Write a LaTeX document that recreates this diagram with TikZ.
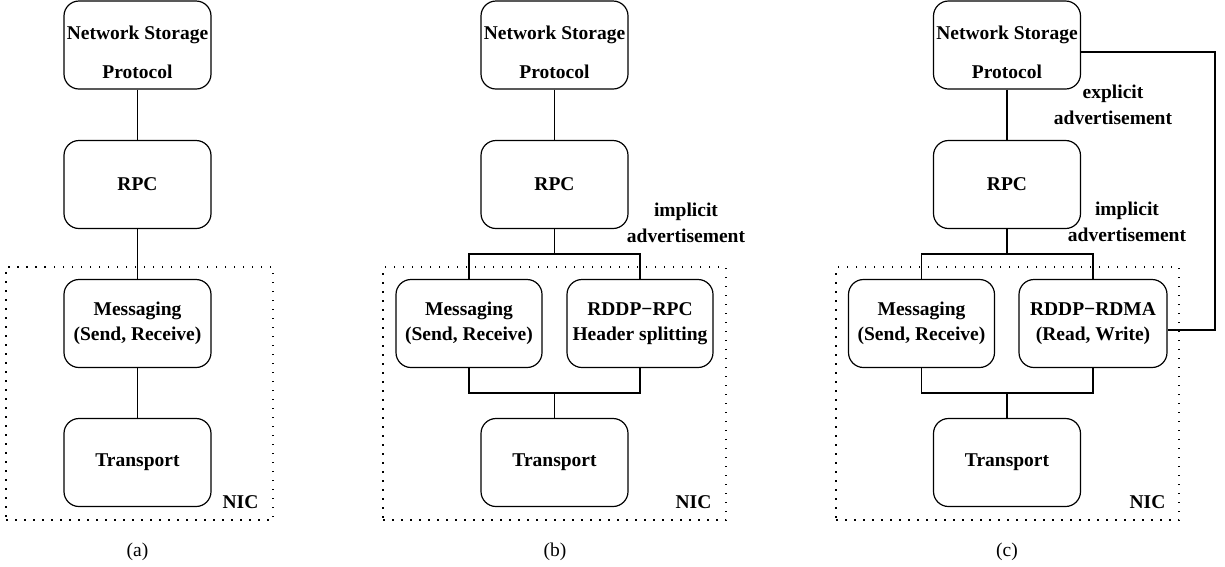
\documentclass[tikz,border=0pt]{standalone}
\usepackage{fontspec}
\setmainfont{Liberation Serif}
\newcommand\lblfont{\fontsize{19.5}{25}\selectfont}
\begin{document}
\begin{tikzpicture}[x=1pt,y=-1pt,
  box/.style={draw, line width=1.2pt, rounded corners=15pt, minimum width=147pt,
    minimum height=88pt, inner sep=0pt, font=\lblfont\bfseries, align=center},
  txt/.style={inner sep=0pt, font=\lblfont\bfseries, align=center},
  sublabel/.style={inner sep=0pt, font=\lblfont},
  link/.style={line width=1.2pt},
  nicbox/.style={draw, line width=1.2pt, dash pattern=on 1.5pt off 7.5pt, inner sep=0pt}]
\useasboundingbox (0,0) rectangle (1225,566);

% ---------------- (a) ----------------
\node[nicbox, minimum width=267pt, minimum height=253pt] (nicA) at (139.5,393.5) {};
\node[box] (nspA) at (137.5,45) {};
\node[txt] (nspAt) at (137.5,52.5) {Network Storage\\[14pt]Protocol};
\node[box] (rpcA) at (137.5,184.5) {RPC};
\node[box] (msgA) at (137.5,323.5) {Messaging\\(Send, Receive)};
\node[box] (trA) at (137.5,462.5) {Transport};
\node[txt] (nicAl) at (240.5,502) {NIC};
\node[sublabel] (capA) at (137.5,552) {(a)};
\draw[link] (nspA) -- (rpcA);
\draw[link] (rpcA) -- (msgA);
\draw[link] (msgA) -- (trA);

% ---------------- (b) ----------------
\node[nicbox, minimum width=343pt, minimum height=253pt] (nicB) at (554.5,393.5) {};
\node[box] (nspB) at (554.5,45) {};
\node[txt] (nspBt) at (554.5,52.5) {Network Storage\\[14pt]Protocol};
\node[box] (rpcB) at (554.5,184.5) {RPC};
\node[box, minimum width=146pt] (msgB) at (469,323.5) {Messaging\\(Send, Receive)};
\node[box, minimum width=146pt] (rddpB) at (640,323.5) {RDDP−RPC\\Header splitting};
\node[box] (trB) at (554.5,462.5) {Transport};
\coordinate (jtB) at (554.5,254);
\coordinate (jbB) at (554.5,393);
\node[txt] (impB) at (686,223) {implicit\\[1pt]advertisement};
\node[txt] (nicBl) at (693.5,502) {NIC};
\node[sublabel] (capB) at (555,552) {(b)};
\draw[link] (nspB) -- (rpcB);
\draw[link] (rpcB) -- (jtB);
\draw[link] (msgB.north) |- (jtB) -| (rddpB.north);
\draw[link] (msgB.south) |- (jbB) -| (rddpB.south);
\draw[link] (jbB) -- (trB);

% ---------------- (c) ----------------
\node[nicbox, minimum width=343pt, minimum height=253pt] (nicC) at (1007.5,393.5) {};
\node[box] (nspC) at (1007,45) {};
\node[txt] (nspCt) at (1007,52.5) {Network Storage\\[14pt]Protocol};
\node[box] (rpcC) at (1007,184.5) {RPC};
\node[box, minimum width=146pt] (msgC) at (921.5,323.5) {Messaging\\(Send, Receive)};
\node[box, minimum width=148pt] (rddpC) at (1093,323.5) {RDDP−RDMA\\(Read, Write)};
\node[box] (trC) at (1007,462.5) {Transport};
\coordinate (jtC) at (1007,254);
\coordinate (jbC) at (1007,393);
\coordinate (rtC) at (1215,52);
\node[txt] (expC) at (1113,105) {explicit\\[1pt]advertisement};
\node[txt] (impC) at (1127,222) {implicit\\[1pt]advertisement};
\node[txt] (nicCl) at (1147.5,502) {NIC};
\node[sublabel] (capC) at (1007,552) {(c)};
\draw[link] (nspC) -- (rpcC);
\draw[link] (rpcC) -- (jtC);
\draw[link] (msgC.north) |- (jtC) -| (rddpC.north);
\draw[link] (msgC.south) |- (jbC) -| (rddpC.south);
\draw[link] (jbC) -- (trC);
\draw[link] (nspC.east |- rtC) -- (rtC) |- ([yshift=-6.5pt]rddpC.east);
\end{tikzpicture}
\end{document}
